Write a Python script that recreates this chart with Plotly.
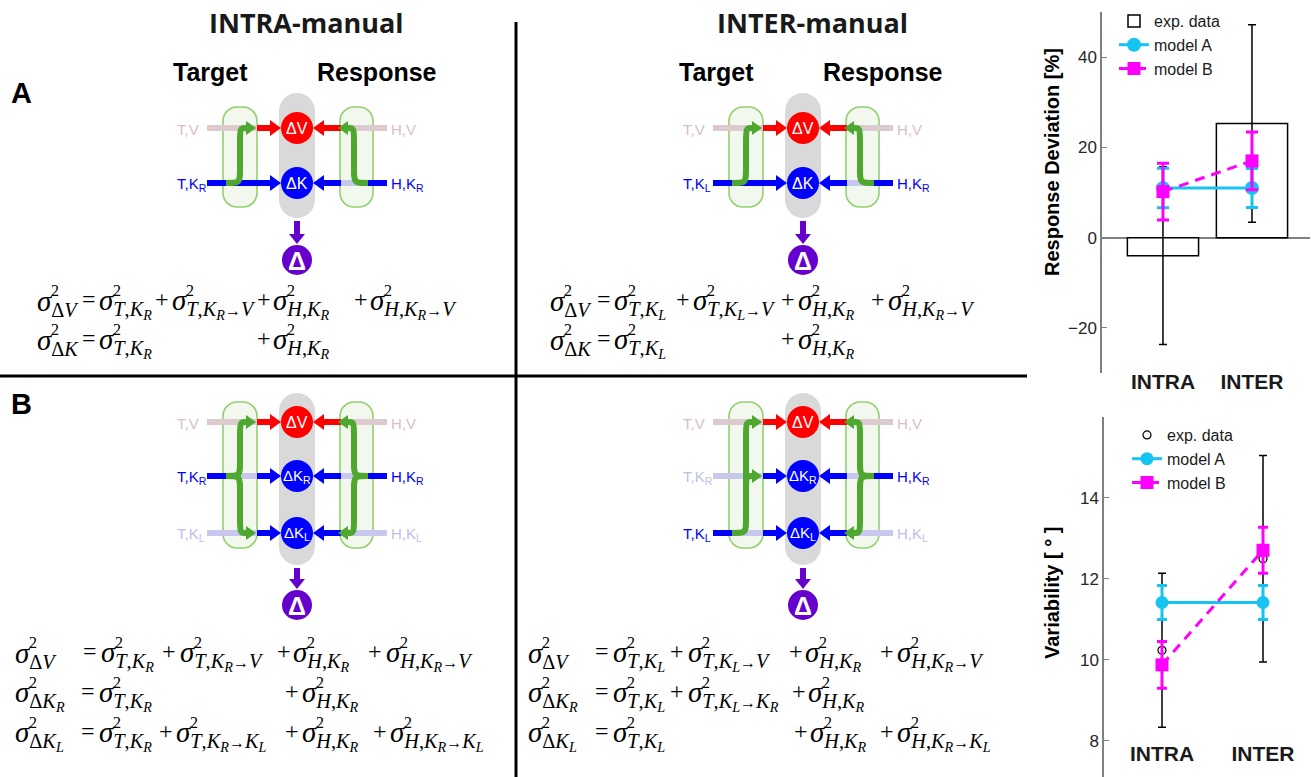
import plotly.graph_objects as go

W, H = 1311, 777

# ---------------- data ----------------
categories = ["INTRA", "INTER"]

dev_exp = [-4.0, 25.3]
dev_exp_err = [19.7, 21.9]
dev_modelA = [11.0, 11.0]
dev_modelA_err = [4.4, 4.3]
dev_modelB = [10.2, 17.0]
dev_modelB_err = [6.3, 6.4]
dev_ticks = [-20, 0, 20, 40]

var_exp = [10.23, 12.49]
var_exp_err = [1.9, 2.55]
var_modelA = [11.41, 11.41]
var_modelA_err = [0.42, 0.42]
var_modelB = [9.87, 12.70]
var_modelB_err = [0.58, 0.57]
var_ticks = [8, 10, 12, 14]

legend_names = ["exp. data", "model A", "model B"]

# equation rows: (y, [(x, token), ...]); token '=' / '+' operators, otherwise subscript code
eq_A_intra = [
    (300, [(37, "DV"), (89, "="), (99, "T,K_R"), (162, "+"), (172, "T,K_R>V"), (264, "+"), (273, "H,K_R"), (361, "+"), (370, "H,K_R>V")]),
    (339, [(37, "DK"), (89, "="), (99, "T,K_R"), (264, "+"), (273, "H,K_R")]),
]
eq_A_inter = [
    (300, [(550, "DV"), (604, "="), (614, "T,K_L"), (683, "+"), (693, "T,K_L>V"), (788, "+"), (798, "H,K_R"), (878, "+"), (888, "H,K_R>V")]),
    (339, [(550, "DK"), (604, "="), (614, "T,K_L"), (788, "+"), (798, "H,K_R")]),
]
eq_B_intra = [
    (652, [(15, "DV"), (90, "="), (101, "T,K_R"), (169, "+"), (180, "T,K_R>V"), (284, "+"), (293, "H,K_R"), (375, "+"), (386, "H,K_R>V")]),
    (692, [(15, "DK_R"), (88, "="), (99, "T,K_R"), (292, "+"), (302, "H,K_R")]),
    (732, [(15, "DK_L"), (88, "="), (99, "T,K_R"), (166, "+"), (176, "T,K_R>K_L"), (292, "+"), (302, "H,K_R"), (380, "+"), (390, "H,K_R>K_L")]),
]
eq_B_inter = [
    (652, [(528, "DV"), (602, "="), (613, "T,K_L"), (677, "+"), (688, "T,K_L>V"), (796, "+"), (805, "H,K_R"), (887, "+"), (897, "H,K_R>V")]),
    (692, [(528, "DK_R"), (602, "="), (613, "T,K_L"), (677, "+"), (688, "T,K_L>K_R"), (799, "+"), (808, "H,K_R")]),
    (732, [(528, "DK_L"), (602, "="), (613, "T,K_L"), (801, "+"), (810, "H,K_R"), (887, "+"), (897, "H,K_R>K_L")]),
]

# ---------------- styles ----------------
SANS = "Liberation Sans, Arial, Helvetica, sans-serif"
NARROW = "Liberation Sans Narrow, Arial Narrow, Liberation Sans, sans-serif"
HEAD = "Open Sans, Liberation Sans, sans-serif"
SERIF = "Liberation Serif, DejaVu Serif, serif"
RED = "#ff0000"
BLUE = "#0000ff"
PURPLE = "#6600cc"
GREEN = "#4ea72e"
BOXLINE = "#92d06e"
BOXFILL = "#f2f8ee"
GRAY = "#d9d9d9"
PALE_V = "#dccbce"
PALE_K = "#c8c8ee"
PALE_V_TXT = "#d8bfc4"
PALE_K_TXT = "#c0c0e8"
CYAN = "#16c4f2"
MAGENTA = "#ff00ff"
AXC = "#808080"

shapes = []
annotations = []


def P(x, y):
    return f"{x:.1f},{y:.1f}"


def seg(x0, y0, x1, y1, color, w):
    shapes.append(dict(type="line", xref="x3", yref="y3", x0=x0, y0=y0, x1=x1, y1=y1,
                       line=dict(color=color, width=w)))


def poly(pts, color):
    path = "M " + " L ".join(P(*p) for p in pts) + " Z"
    shapes.append(dict(type="path", xref="x3", yref="y3", path=path, fillcolor=color,
                       line=dict(width=0)))


def harrow(x0, x1, y, color, w=6, hl=11, hw=16):
    s = 1 if x1 > x0 else -1
    seg(x0, y, x1 - s * (hl - 1), y, color, w)
    poly([(x1 - s * hl, y - hw / 2), (x1, y), (x1 - s * hl, y + hw / 2)], color)


def varrow(x, y0, y1, color, w=6, hl=10, hw=16):
    seg(x, y0, x, y1 - (hl - 1), color, w)
    poly([(x - hw / 2, y1 - hl), (x, y1), (x + hw / 2, y1 - hl)], color)


def rrect(x0, y0, x1, y1, r, fill, lc=None, lw=0):
    k = 0.5523 * r
    path = (f"M {P(x0 + r, y0)} L {P(x1 - r, y0)} C {P(x1 - r + k, y0)} {P(x1, y0 + r - k)} {P(x1, y0 + r)} "
            f"L {P(x1, y1 - r)} C {P(x1, y1 - r + k)} {P(x1 - r + k, y1)} {P(x1 - r, y1)} "
            f"L {P(x0 + r, y1)} C {P(x0 + r - k, y1)} {P(x0, y1 - r + k)} {P(x0, y1 - r)} "
            f"L {P(x0, y0 + r)} C {P(x0, y0 + r - k)} {P(x0 + r - k, y0)} {P(x0 + r, y0)} Z")
    shapes.append(dict(type="path", xref="x3", yref="y3", path=path, fillcolor=fill,
                       line=dict(color=lc if lc else fill, width=lw if lc else 0)))


def circle(cx, cy, r, color):
    shapes.append(dict(type="circle", xref="x3", yref="y3", x0=cx - r, x1=cx + r, y0=cy - r, y1=cy + r,
                       fillcolor=color, line=dict(width=0)))


def ann(x, y, text, size, color="black", family=SANS, xanchor="center", yanchor="middle", angle=0):
    annotations.append(dict(x=x, y=y, xref="x3", yref="y3", text=text, showarrow=False,
                            font=dict(size=size, color=color, family=family),
                            xanchor=xanchor, yanchor=yanchor, textangle=angle))


def greenpath(pts, dx, mirror):
    def tx(p):
        x, y = p
        if mirror:
            x = 594 - x
        return (x + dx, y)
    s = ""
    for c in pts:
        s += c[0] + " " + " ".join(P(*tx(p)) for p in c[1:]) + " "
    shapes.append(dict(type="path", xref="x3", yref="y3", path=s.strip(),
                       fillcolor="rgba(0,0,0,0)", line=dict(color=GREEN, width=6)))
    hx, hy = c[-1]
    if not mirror:
        poly([(hx + dx - 1, hy - 7), (hx + dx + 9, hy), (hx + dx - 1, hy + 7)], GREEN)
    else:
        mx = 594 - hx + dx
        poly([(mx + 1, hy - 7), (mx - 9, hy), (mx + 1, hy + 7)], GREEN)


def up_curve(y_from, y_to):
    d = 1 if y_to < y_from else -1
    return [("M", (226, y_from)), ("C", (240, y_from), (240, y_from), (240, y_from - d * 15)),
            ("L", (240, y_to + d * 14)), ("C", (240, y_to), (240, y_to), (247, y_to))]


def diagram(dx, rows, pill_y, box_y, out_y, green_left, green_right):
    cx = 297 + dx
    rrect(cx - 18, pill_y[0], cx + 18, pill_y[1], 18, GRAY)
    rrect(223 + dx, box_y[0], 257 + dx, box_y[1], 14, BOXFILL, BOXLINE, 1.6)
    rrect(340 + dx, box_y[0], 373 + dx, box_y[1], 14, BOXFILL, BOXLINE, 1.6)
    for (y, ccol, clab, llab, lstate, rlab, rstate) in rows:
        pale = PALE_V if ccol == RED else PALE_K
        ptxt = PALE_V_TXT if ccol == RED else PALE_K_TXT
        if lstate == "full":
            seg(207 + dx, y, 258 + dx, y, BLUE, 6)
        elif lstate == "part":
            seg(207 + dx, y, 231 + dx, y, BLUE, 6)
            seg(231 + dx, y, 258 + dx, y, pale, 6)
        else:
            seg(207 + dx, y, 258 + dx, y, pale, 6)
        harrow(257 + dx, cx - 16, y, ccol)
        if rstate == "full":
            seg(339 + dx, y, 387 + dx, y, BLUE, 6)
        elif rstate == "part":
            seg(363 + dx, y, 387 + dx, y, BLUE, 6)
            seg(339 + dx, y, 363 + dx, y, pale, 6)
        else:
            seg(339 + dx, y, 387 + dx, y, pale, 6)
        harrow(341 + dx, cx + 16, y, ccol)
        ann(175 + dx, y + 1, llab, 15, BLUE if lstate != "pale" else ptxt, SANS, xanchor="left")
        ann(389 + dx, y + 1, rlab, 15, BLUE if rstate != "pale" else ptxt, SANS, xanchor="left")
        circle(cx, y, 16, ccol)
        ann(cx, y, clab, 16 if len(clab) < 4 else 15, "white", SANS)
    for g in green_left:
        greenpath(g, dx, False)
    for g in green_right:
        greenpath(g, dx, True)
    varrow(cx, pill_y[1] + 3, out_y - 16, PURPLE)
    circle(cx, out_y, 15, PURPLE)
    ann(cx, out_y + 1, "<b>Δ</b>", 25, "white", SANS)


KR = "K<sub>R</sub>"
KL = "K<sub>L</sub>"

# Panel A
rowsA_intra = [(128, RED, "ΔV", "T,V", "pale", "H,V", "pale"),
               (183, BLUE, "ΔK", "T," + KR, "full", "H," + KR, "part")]
rowsA_inter = [(128, RED, "ΔV", "T,V", "pale", "H,V", "pale"),
               (183, BLUE, "ΔK", "T," + KL, "full", "H," + KR, "part")]
gA = [up_curve(183, 128)]
diagram(0, rowsA_intra, (93, 218), (107, 207), 260, gA, gA)
diagram(506, rowsA_inter, (93, 218), (107, 207), 260, gA, gA)

# Panel B
rowsB_intra = [(422, RED, "ΔV", "T,V", "pale", "H,V", "pale"),
               (476, BLUE, "Δ" + KR, "T," + KR, "part", "H," + KR, "part"),
               (533, BLUE, "Δ" + KL, "T," + KL, "pale", "H," + KL, "pale")]
rowsB_inter = [(422, RED, "ΔV", "T,V", "pale", "H,V", "pale"),
               (476, BLUE, "Δ" + KR, "T," + KR, "pale", "H," + KR, "part"),
               (533, BLUE, "Δ" + KL, "T," + KL, "part", "H," + KL, "pale")]
brace = [up_curve(476, 422), up_curve(476, 533)]
branch = [("M", (240, 492)), ("C", (240, 476), (240, 476), (247, 476))]
left_inter = [up_curve(533, 422), branch]
diagram(0, rowsB_intra, (393, 565), (402, 548), 605, brace, brace)
diagram(506, rowsB_inter, (393, 565), (402, 548), 605, left_inter, brace)

# titles and labels
ann(306, 22, "<b>INTRA-manual</b>", 27, "#1a1a1a", HEAD)
ann(812, 22, "<b>INTER-manual</b>", 27, "#1a1a1a", HEAD)
for dx in (0, 506):
    ann(210 + dx, 72, "<b>Target</b>", 25, "black", NARROW)
    ann(377 + dx, 72, "<b>Response</b>", 25, "black", NARROW)
ann(21, 93, "<b>A</b>", 29, "black", SANS)
ann(21, 404, "<b>B</b>", 29, "black", SANS)

# dividers
seg(0, 376, 1027, 376, "black", 3)
seg(516, 22, 516, 777, "black", 3)


# equations
def tex(s):
    out = ""
    i = 0
    while i < len(s):
        c = s[i]
        if c == "D":
            out += "Δ"
        elif c == ">":
            out += '<span style="font-size:16px">→</span>'
        elif c == "_":
            out += f"<sub><i>{s[i + 1]}</i></sub>"
            i += 1
        elif c.isalpha():
            out += f"<i>{c}</i>"
        else:
            out += c
        i += 1
    return out


for block in (eq_A_intra, eq_A_inter, eq_B_intra, eq_B_inter):
    for (y, items) in block:
        for (x, tok) in items:
            if tok in ("=", "+"):
                ann(x, y - 1, tok, 24, "black", SERIF)
            else:
                ann(x - 2, y + 3, "<i>σ</i><sub>" + tex(tok) + "</sub>", 29, "black", SERIF,
                    xanchor="left")
                ann(x + 12, y - 10, "2", 16, "black", SERIF, xanchor="left")

# chart y titles
ann(1052, 162, "<b>Response Deviation [%]</b>", 20, "black", SANS, angle=-90)
ann(1052, 593, "<b>Variability [ ° ]</b>", 20, "black", SANS, angle=-90)

# ---------------- figure ----------------
fig = go.Figure()
xs = list(range(len(categories)))

# top chart
fig.add_trace(go.Bar(x=xs, y=dev_exp, width=0.8, name=legend_names[0],
                     marker=dict(color="white", line=dict(color="black", width=1.5)),
                     error_y=dict(type="data", array=dev_exp_err, color="black", thickness=1.5, width=4),
                     xaxis="x", yaxis="y", legend="legend"))
fig.add_trace(go.Scatter(x=xs, y=dev_modelA, name=legend_names[1], mode="lines+markers",
                         line=dict(color=CYAN, width=3), marker=dict(symbol="circle", size=14, color=CYAN),
                         error_y=dict(type="data", array=dev_modelA_err, color=CYAN, thickness=3, width=6),
                         xaxis="x", yaxis="y", legend="legend"))
fig.add_trace(go.Scatter(x=xs, y=dev_modelB, name=legend_names[2], mode="lines+markers",
                         line=dict(color=MAGENTA, width=3, dash="10px,7px"),
                         marker=dict(symbol="square", size=13, color=MAGENTA),
                         error_y=dict(type="data", array=dev_modelB_err, color=MAGENTA, thickness=3, width=6),
                         xaxis="x", yaxis="y", legend="legend"))

# bottom chart
fig.add_trace(go.Scatter(x=xs, y=var_exp, name=legend_names[0], mode="markers",
                         marker=dict(symbol="circle", size=8, color="white", line=dict(color="black", width=1.2)),
                         error_y=dict(type="data", array=var_exp_err, color="black", thickness=1.5, width=4),
                         xaxis="x2", yaxis="y2", legend="legend2"))
fig.add_trace(go.Scatter(x=xs, y=var_modelA, name=legend_names[1], mode="lines+markers",
                         line=dict(color=CYAN, width=3), marker=dict(symbol="circle", size=13, color=CYAN),
                         error_y=dict(type="data", array=var_modelA_err, color=CYAN, thickness=3, width=5),
                         xaxis="x2", yaxis="y2", legend="legend2"))
fig.add_trace(go.Scatter(x=xs, y=var_modelB, name=legend_names[2], mode="lines+markers",
                         line=dict(color=MAGENTA, width=3, dash="10px,7px"),
                         marker=dict(symbol="square", size=13, color=MAGENTA),
                         error_y=dict(type="data", array=var_modelB_err, color=MAGENTA, thickness=3, width=5),
                         xaxis="x2", yaxis="y2", legend="legend2"))

# drawing canvas trace
fig.add_trace(go.Scatter(x=[None], y=[None], xaxis="x3", yaxis="y3", showlegend=False, hoverinfo="skip"))

tickfont = dict(family=SANS, size=17, color="#262626")
catfont = dict(family=SANS, size=21, color="#1a1a1a")

fig.update_layout(
    width=W, height=H, margin=dict(l=0, r=0, t=0, b=0),
    paper_bgcolor="white", plot_bgcolor="rgba(0,0,0,0)",
    showlegend=True,
    xaxis=dict(domain=[1102 / W, 1310 / W], range=[-0.685, 1.652], tickvals=xs,
               ticktext=[f"<b>{c}</b>" for c in categories], showline=False, showgrid=False,
               zeroline=False, ticks="", tickfont=catfont, anchor="free", position=1 - 367 / H,
               fixedrange=True),
    yaxis=dict(domain=[1 - 373 / H, 1 - 12 / H], range=[-30, 50], tickvals=dev_ticks,
               ticks="inside", ticklen=5, tickcolor=AXC, tickwidth=1.2, showline=True, linecolor=AXC,
               linewidth=1.5, showgrid=False, zeroline=True, zerolinecolor=AXC, zerolinewidth=1.5,
               tickfont=tickfont, anchor="x", fixedrange=True),
    xaxis2=dict(domain=[1104 / W, 1.0], range=[-0.574, 1.475], tickvals=xs,
                ticktext=[f"<b>{c}</b>" for c in categories], showline=False, showgrid=False,
                zeroline=False, ticks="", tickfont=catfont, anchor="free", position=1 - 739 / H,
                fixedrange=True),
    yaxis2=dict(domain=[0, 1 - 416.7 / H], range=[7.1, 16], tickvals=var_ticks,
                ticks="inside", ticklen=5, tickcolor=AXC, tickwidth=1.2, showline=True, linecolor=AXC,
                linewidth=1.5, showgrid=False, zeroline=False, tickfont=tickfont, anchor="x2",
                fixedrange=True),
    xaxis3=dict(domain=[0, 1], range=[0, W], visible=False, fixedrange=True, anchor="y3"),
    yaxis3=dict(domain=[0, 1], range=[H, 0], visible=False, fixedrange=True, anchor="x3"),
    legend=dict(x=1114 / W, y=1 - 4 / H, xanchor="left", yanchor="top", bgcolor="rgba(0,0,0,0)",
                font=dict(family=SANS, size=16, color="#1a1a1a"), tracegroupgap=0),
    legend2=dict(x=1127 / W, y=1 - 418 / H, xanchor="left", yanchor="top", bgcolor="rgba(0,0,0,0)",
                 font=dict(family=SANS, size=16, color="#1a1a1a"), tracegroupgap=0),
    shapes=shapes, annotations=annotations,
)

fig.write_html("out.html", config={"displayModeBar": False},
               post_script="document.body.style.margin='0px';")
